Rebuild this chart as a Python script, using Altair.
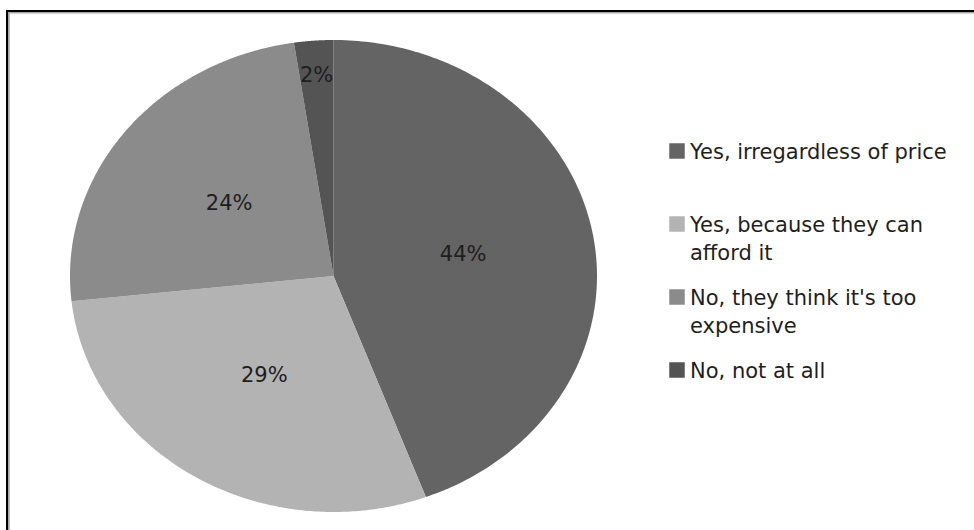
import altair as alt
import pandas as pd

categories = [
    "Yes, irregardless of price",
    "Yes, because they can afford it",
    "No, they think it's too expensive",
    "No, not at all",
]
legend_labels = [
    "Yes, irregardless of price",
    "Yes, because they can\nafford it",
    "No, they think it's too\nexpensive",
    "No, not at all",
]
shares = [44.3, 29.0, 24.3, 2.4]
colors = ["#646464", "#b3b3b3", "#8b8b8b", "#545454"]

FONT = "DejaVu Sans"
FS = 21
TXT = "#1e1e1e"
N = 180

df = pd.DataFrame({
    "idx": list(range(len(categories))),
    "category": categories,
    "legend": legend_labels,
    "share": shares,
})

color = alt.Color("category:N", scale=alt.Scale(domain=categories, range=colors), legend=None)
xs = alt.Scale(domain=[-1, 1], nice=False, zero=False)
ys = alt.Scale(domain=[-1, 1], nice=False, zero=False)

base = (
    alt.Chart(df)
    .transform_joinaggregate(total="sum(share)")
    .transform_window(cum="sum(share)", sort=[{"field": "idx"}], frame=[None, 0])
    .transform_calculate(
        a0="2*PI*(datum.cum - datum.share)/datum.total",
        a1="2*PI*datum.cum/datum.total",
    )
)

slices = (
    base.transform_calculate(step=f"sequence(0, {N + 3})")
    .transform_flatten(["step"])
    .transform_calculate(
        ang=f"datum.a0 + (datum.a1 - datum.a0) * (datum.step - 1) / {N}",
    )
    .transform_calculate(
        px=f"(datum.step == 0 || datum.step == {N + 2}) ? 0 : sin(datum.ang)",
        py=f"(datum.step == 0 || datum.step == {N + 2}) ? 0 : cos(datum.ang)",
    )
    .mark_line(filled=True, interpolate="linear")
    .encode(
        x=alt.X("px:Q", scale=xs, axis=None),
        y=alt.Y("py:Q", scale=ys, axis=None),
        color=color,
        detail="category:N",
        order=alt.Order("step:Q"),
    )
)

labels = (
    base.transform_calculate(
        mid="(datum.a0 + datum.a1)/2",
        f="datum.share < 5 ? 0.85 : 0.5",
    )
    .transform_calculate(
        lx="datum.f * sin(datum.mid)",
        ly="datum.f * cos(datum.mid)",
        txt="format(datum.share / datum.total, '.0%')",
    )
    .mark_text(font=FONT, fontSize=FS, color=TXT, baseline="middle", align="center")
    .encode(
        x=alt.X("lx:Q", scale=xs, axis=None),
        y=alt.Y("ly:Q", scale=ys, axis=None),
        text="txt:N",
    )
)

leg_y = alt.Y("idx:Q", scale=alt.Scale(domain=[0, 3], range=[111, 330]), axis=None)

squares = alt.Chart(df).mark_square(size=240, opacity=1).encode(
    x=alt.value(607), y=leg_y, color=color
)
legtext = alt.Chart(df).mark_text(
    align="left", baseline="alphabetic", dy=7.5, lineBreak="\n", lineHeight=28.5,
    font=FONT, fontSize=FS, color=TXT,
).encode(x=alt.value(620), y=leg_y, text="legend:N")

one = pd.DataFrame({"k": [0]})
top_black = alt.Chart(one).mark_rule(color="black", strokeWidth=2).encode(
    x=alt.value(-64), x2=alt.value(904), y=alt.value(-29)
)
left_black = alt.Chart(one).mark_rule(color="black", strokeWidth=2).encode(
    x=alt.value(-63), y=alt.value(-30), y2=alt.value(490)
)
top_gray = alt.Chart(one).mark_rule(color="#a8a8a8", strokeWidth=1.5).encode(
    x=alt.value(-62), x2=alt.value(904), y=alt.value(-27.2)
)
left_gray = alt.Chart(one).mark_rule(color="#a8a8a8", strokeWidth=1.8).encode(
    x=alt.value(-61.2), y=alt.value(-28), y2=alt.value(490)
)

chart = (
    alt.layer(slices, labels, squares, legtext, top_gray, left_gray, top_black, left_black)
    .resolve_scale(x="independent", y="independent")
    .properties(
        width=527,
        height=472,
        padding={"left": 70, "top": 40, "right": 377, "bottom": 18},
        autosize=alt.AutoSizeParams(type="none"),
        background="white",
    )
    .configure_view(stroke=None)
)

chart.save("out.html", embed_options={"renderer": "svg", "actions": False})
